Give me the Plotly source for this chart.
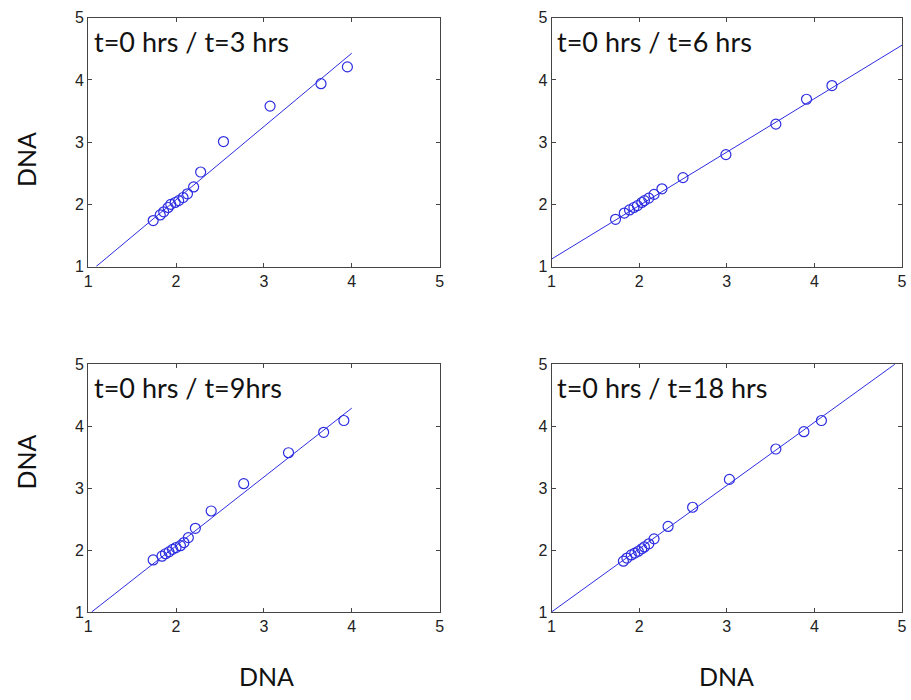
import plotly.graph_objects as go

# ---- data ----
titles = ["t=0 hrs / t=3 hrs", "t=0 hrs / t=6 hrs", "t=0 hrs / t=9hrs", "t=0 hrs / t=18 hrs"]

x_3h = [1.74, 1.82, 1.86, 1.91, 1.94, 1.99, 2.03, 2.08, 2.13, 2.20, 2.28, 2.54, 3.07, 3.65, 3.95]
y_3h = [1.74, 1.83, 1.88, 1.95, 2.00, 2.03, 2.06, 2.11, 2.17, 2.28, 2.52, 3.01, 3.58, 3.94, 4.21]
fit_x_3h = [1.09, 4.00]
fit_y_3h = [1.00, 4.43]

x_6h = [1.73, 1.83, 1.89, 1.94, 1.98, 2.03, 2.06, 2.11, 2.17, 2.26, 2.50, 2.99, 3.56, 3.91, 4.20]
y_6h = [1.76, 1.86, 1.91, 1.95, 1.98, 2.03, 2.06, 2.10, 2.16, 2.25, 2.43, 2.80, 3.29, 3.69, 3.91]
fit_x_6h = [1.00, 5.00]
fit_y_6h = [1.12, 4.56]

x_9h = [1.74, 1.84, 1.88, 1.92, 1.96, 2.00, 2.05, 2.09, 2.14, 2.22, 2.40, 2.77, 3.28, 3.68, 3.91]
y_9h = [1.84, 1.90, 1.94, 1.97, 2.01, 2.04, 2.07, 2.12, 2.20, 2.35, 2.63, 3.07, 3.57, 3.90, 4.09]
fit_x_9h = [1.04, 4.00]
fit_y_9h = [1.00, 4.29]

x_18h = [1.82, 1.86, 1.91, 1.95, 1.99, 2.03, 2.06, 2.11, 2.17, 2.33, 2.61, 3.03, 3.56, 3.88, 4.08]
y_18h = [1.82, 1.87, 1.92, 1.95, 1.98, 2.02, 2.05, 2.10, 2.18, 2.38, 2.69, 3.14, 3.63, 3.91, 4.09]
fit_x_18h = [1.00, 4.92]
fit_y_18h = [1.00, 5.00]

tick_vals = [1, 2, 3, 4, 5]
axis_label = "DNA"

panels = [
    (x_3h, y_3h, fit_x_3h, fit_y_3h),
    (x_6h, y_6h, fit_x_6h, fit_y_6h),
    (x_9h, y_9h, fit_x_9h, fit_y_9h),
    (x_18h, y_18h, fit_x_18h, fit_y_18h),
]

# ---- layout geometry ----
W, H = 911, 700
xdoms = [(85 / W, 440 / W), (553 / W, 907 / W)]
ydoms = [(1 - 265 / H, 1 - 10 / H), (1 - 619 / H, 1 - 365 / H)]

BLUE = "rgb(45,45,225)"
fig = go.Figure()
layout = dict(
    width=W, height=H,
    margin=dict(l=0, r=0, t=0, b=0),
    paper_bgcolor="white", plot_bgcolor="white",
    showlegend=False,
)

tick_font = dict(family="Liberation Sans, Arial, sans-serif", size=16, color="#222")
annotations = []
for i, (px, py, fx, fy) in enumerate(panels):
    row, col = divmod(i, 2)
    n = i + 1
    xa = "x" if n == 1 else f"x{n}"
    ya = "y" if n == 1 else f"y{n}"
    fig.add_trace(go.Scatter(x=fx, y=fy, mode="lines", xaxis=xa, yaxis=ya,
                             line=dict(color=BLUE, width=1), hoverinfo="skip"))
    fig.add_trace(go.Scatter(x=px, y=py, mode="markers", xaxis=xa, yaxis=ya,
                             marker=dict(symbol="circle-open", size=10, color=BLUE,
                                         line=dict(width=1.2, color=BLUE))))
    common = dict(range=[1, 5], tickvals=tick_vals, ticks="inside", ticklen=4,
                  tickcolor="#444", showline=True, linecolor="#444", linewidth=1,
                  mirror="ticks", showgrid=False, zeroline=False, tickfont=tick_font)
    layout["xaxis" if n == 1 else f"xaxis{n}"] = dict(domain=list(xdoms[col]), anchor=ya, **common)
    layout["yaxis" if n == 1 else f"yaxis{n}"] = dict(domain=list(ydoms[row]), anchor=xa, **common)
    annotations.append(dict(
        text=titles[i], xref=f"{xa} domain", yref=f"{ya} domain",
        x=0.01, y=0.905, xanchor="left", yanchor="middle", showarrow=False,
        font=dict(family="Lato, Open Sans, sans-serif", size=27, color="#111")))

title_font = dict(family="Lato, Open Sans, sans-serif", size=25, color="#111")
for yc in [155, 465]:
    annotations.append(dict(text=axis_label, xref="paper", yref="paper", x=22 / W, y=1 - yc / H,
                            textangle=-90, showarrow=False, font=title_font,
                            xanchor="center", yanchor="middle"))
for xc in [265, 730]:
    annotations.append(dict(text=axis_label, xref="paper", yref="paper", x=xc / W, y=1 - 685 / H,
                            showarrow=False, font=title_font,
                            xanchor="center", yanchor="middle"))

layout["annotations"] = annotations
fig.update_layout(**layout)
fig.write_html("out.html")
